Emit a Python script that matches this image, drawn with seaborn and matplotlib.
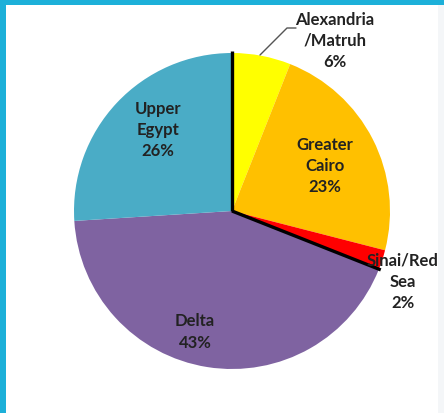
import numpy as np
import matplotlib
matplotlib.use("Agg")
import matplotlib.pyplot as plt
import seaborn as sns
from matplotlib.patches import Rectangle

sns.set_theme(style="white")
plt.rcParams['font.family'] = ['Lato', 'DejaVu Sans']

regions = ["Alexandria\n/Matruh", "Greater\nCairo", "Sinai/Red\nSea", "Delta", "Upper\nEgypt"]
shares = [6, 23, 2, 43, 26]
colors = ["#FFFF00", "#FFC000", "#FF0000", "#7F63A1", "#4AACC6"]

W, H = 444, 414
fig = plt.figure(figsize=(W / 100, H / 100), dpi=100)
fig.patch.set_facecolor("#1DB0D9")
fig.patches.append(Rectangle((6 / W, 0), (438 - 6) / W, (H - 6) / H, transform=fig.transFigure,
                             facecolor="white", edgecolor="none", zorder=-10))
fig.patches.append(Rectangle((438 / W, 0), 6 / W, (H - 6) / H, transform=fig.transFigure,
                             facecolor="#F4F6F8", edgecolor="none", zorder=-10))

ax = fig.add_axes([0, 0, 1, 1])
ax.set_zorder(1)
ax.patch.set_alpha(0)

cx, cy, r = 232, H - 212, 158
wedges, _ = ax.pie(shares, colors=colors, startangle=90, counterclock=False,
                   center=(cx, cy), radius=r, frame=True,
                   wedgeprops=dict(linewidth=0, edgecolor="none"))
ax.set_xlim(0, W)
ax.set_ylim(0, H)
ax.set_aspect("equal")
ax.axis("off")

# black edges: start of pie and Sinai/Delta boundary
for ang in [wedges[0].theta2, wedges[2].theta1]:
    a = np.deg2rad(ang)
    ax.plot([cx, cx + (r + 2) * np.cos(a)], [cy, cy + (r + 2) * np.sin(a)],
            color="black", lw=2.4, solid_capstyle="butt", zorder=5)

tc = "#222222"
fs = 12
def lab(i, x, y):
    ax.text(x, y, f"{regions[i]}\n{shares[i]}%", ha="center", va="center",
            fontsize=fs, fontweight="bold", color=tc, linespacing=1.4, zorder=6)

lab(0, 335, H - 41)
lab(1, 325, H - 166)
lab(2, 403, H - 282)
lab(3, 195, H - 332)
lab(4, 158, H - 130)

# leader line for Alexandria
ax.plot([260, 287, 296], [H - 56, H - 29, H - 29], color="#555555", lw=1, zorder=6)

fig.savefig("out.png", dpi=100)
